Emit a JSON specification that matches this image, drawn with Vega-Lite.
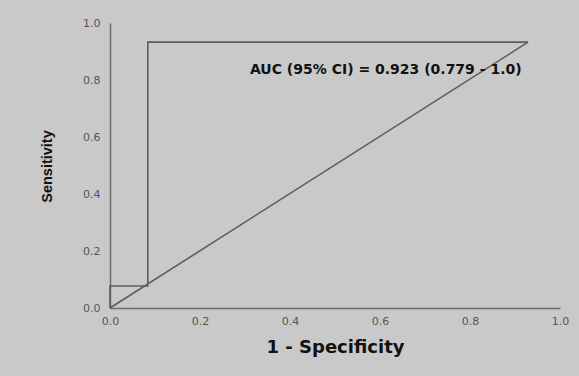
{
  "$schema": "https://vega.github.io/schema/vega-lite/v6.json",
  "autosize": "none",
  "width": 450,
  "height": 285,
  "padding": {"left": 110, "top": 23, "right": 19, "bottom": 68},
  "background": "#c9c9c9",
  "config": {
    "view": {"stroke": null},
    "font": "DejaVu Sans"
  },
  "datasets": {
    "roc": [
      {"fpr": 0.0, "tpr": 0.0, "order": 1, "series": "ROC"},
      {"fpr": 0.0, "tpr": 0.077, "order": 2, "series": "ROC"},
      {"fpr": 0.084, "tpr": 0.077, "order": 3, "series": "ROC"},
      {"fpr": 0.084, "tpr": 0.933, "order": 4, "series": "ROC"},
      {"fpr": 0.929, "tpr": 0.933, "order": 5, "series": "ROC"},
      {"fpr": 0.0, "tpr": 0.0, "order": 1, "series": "Reference"},
      {"fpr": 0.929, "tpr": 0.933, "order": 2, "series": "Reference"}
    ],
    "label": [
      {"fpr": 0.311, "tpr": 0.835, "text": "AUC (95% CI) = 0.923 (0.779 - 1.0)"}
    ]
  },
  "layer": [
    {
      "data": {"name": "roc"},
      "mark": {"type": "line", "color": "#5e5e5e", "strokeWidth": 1.6},
      "encoding": {
        "x": {
          "field": "fpr", "type": "quantitative",
          "scale": {"domain": [0, 1], "nice": false},
          "axis": {
            "title": "1 - Specificity",
            "values": [0, 0.2, 0.4, 0.6, 0.8, 1.0],
            "format": ".1f",
            "grid": false, "ticks": false,
            "domainColor": "#6e6e6e", "domainWidth": 1.5,
            "labelColor": "#555555", "labelFontSize": 11, "labelPadding": 7,
            "labelFlush": false,
            "titleFontSize": 18, "titleFontWeight": "bold", "titleColor": "#111111",
            "titleBaseline": "middle", "titleY": 39, "titleX": 225
          }
        },
        "y": {
          "field": "tpr", "type": "quantitative",
          "scale": {"domain": [0, 1], "nice": false},
          "axis": {
            "title": "Sensitivity",
            "values": [0, 0.2, 0.4, 0.6, 0.8, 1.0],
            "format": ".1f",
            "grid": false, "ticks": false,
            "domainColor": "#6e6e6e", "domainWidth": 1.5,
            "labelColor": "#555555", "labelFontSize": 11, "labelPadding": 10,
            "labelFlush": false,
            "titleFont": "Liberation Sans",
            "titleFontSize": 14.5, "titleFontWeight": "bold", "titleColor": "#111111",
            "titleAngle": -90, "titleAlign": "center", "titleBaseline": "middle",
            "titleX": -63, "titleY": 143
          }
        },
        "detail": {"field": "series"},
        "order": {"field": "order", "type": "quantitative"}
      }
    },
    {
      "data": {"name": "label"},
      "mark": {"type": "text", "align": "left", "baseline": "middle", "fontWeight": "bold", "fontSize": 14, "color": "#111111", "font": "DejaVu Sans"},
      "encoding": {
        "x": {"field": "fpr", "type": "quantitative"},
        "y": {"field": "tpr", "type": "quantitative"},
        "text": {"field": "text"}
      }
    }
  ]
}
